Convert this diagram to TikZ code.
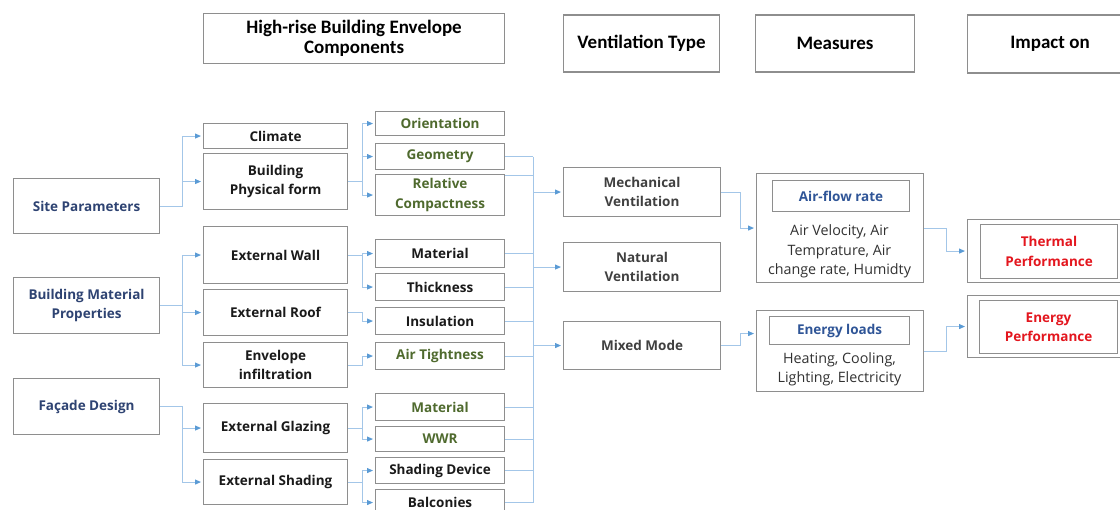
\documentclass[tikz,border=0pt]{standalone}
\usepackage{fontspec}
\setmainfont{Open Sans}
\newfontfamily\hdrfont{Carlito}
\usetikzlibrary{arrows.meta}

\definecolor{boxgray}{HTML}{8E8E8E}
\definecolor{linkblue}{HTML}{A3C6E8}
\definecolor{tipblue}{HTML}{5B9BD5}
\definecolor{navytext}{HTML}{2E4372}
\definecolor{greentext}{HTML}{4F6A2E}
\definecolor{redtext}{HTML}{E3161E}
\definecolor{bluetext}{HTML}{2F5597}
\definecolor{graytext}{HTML}{404040}
\definecolor{darktext}{HTML}{1A1A1A}

% box: corner (x,y) in pixel units, width, height
\newcommand{\mkbox}[7]{\node[bx,#1,minimum width=#5pt,minimum height=#6pt] (#2) at (#3,#4) {#7};}

\begin{document}
\begin{tikzpicture}[x=1pt,y=-1pt,
  bx/.style={draw=boxgray, line width=1.1pt, inner sep=0pt, anchor=north west,
             align=center, text=darktext,
             font=\fontsize{13.5}{19.5}\selectfont\bfseries},
  hdr/.style={font=\hdrfont\fontsize{19}{19.5}\selectfont\bfseries, text=black},
  navy/.style={text=navytext},
  green/.style={text=greentext},
  red/.style={text=redtext},
  vent/.style={text=graytext},
  plain/.style={font=\fontsize{14.3}{19.5}\selectfont, text=darktext!90, align=center},
  link/.style={draw=linkblue, line width=1pt},
  arr/.style={link, -{Triangle[length=6pt,width=5pt,color=tipblue]}, shorten >=2pt},
]
\useasboundingbox (0,0) rectangle (1120,510);

% column headings
\mkbox{hdr}{h1}{203}{13}{301}{50}{High-rise Building Envelope\\Components}
\mkbox{hdr,yshift=-1.5pt}{h2}{563}{13}{156}{57}{Ventilation Type}
\mkbox{hdr,yshift=-1.5pt}{h3}{755}{13}{159}{57}{Measures}
\mkbox{hdr,yshift=-1.5pt}{h4}{967}{13}{165}{58}{Impact on}

% envelope components
\mkbox{navy}{site}{13}{178}{146}{55}{Site Parameters}
\mkbox{navy}{bmp}{13}{277}{146}{56}{Building Material\\Properties}
\mkbox{navy}{facade}{13}{378}{146}{56}{Façade Design}

\mkbox{}{climate}{203}{123}{144}{25}{Climate}
\mkbox{}{bpf}{203}{153}{144}{56}{Building\\Physical form}
\mkbox{}{wall}{203}{226}{144}{57}{External Wall}
\mkbox{}{roof}{203}{289}{144}{46}{External Roof}
\mkbox{}{env}{203}{342}{144}{45}{Envelope\\infiltration}
\mkbox{}{glaz}{203}{403}{144}{49}{External Glazing}
\mkbox{}{shad}{203}{459}{144}{45}{External Shading}

\mkbox{green}{orient}{375}{111}{129}{24}{Orientation}
\mkbox{green}{geom}{375}{143}{129}{26}{Geometry}
\mkbox{green}{relc}{375}{174}{129}{41}{Relative\\Compactness}
\mkbox{}{mat}{375}{239}{129}{28}{Material}
\mkbox{}{thick}{375}{273}{129}{27}{Thickness}
\mkbox{}{insul}{375}{307}{129}{27}{Insulation}
\mkbox{green}{airt}{375}{342}{129}{27}{Air Tightness}
\mkbox{green}{gmat}{375}{393}{129}{27}{Material}
\mkbox{green}{wwr}{375}{426}{129}{25}{WWR}
\mkbox{}{shdev}{375}{457}{129}{26}{Shading Device}
\mkbox{}{balc}{375}{489}{129}{26}{Balconies}

% ventilation types
\mkbox{vent}{mech}{563}{167}{157}{49}{Mechanical\\Ventilation}
\mkbox{vent}{nat}{563}{242}{157}{49}{Natural\\Ventilation}
\mkbox{vent}{mixed}{563}{321}{157}{48}{Mixed Mode}

% measures
\mkbox{}{meas1}{756}{173}{167}{109}{}
\mkbox{text=bluetext}{airflow}{772}{180}{137}{31}{Air-flow rate}
\node[plain] (airtxt) at (839.5,251.5) {Air Velocity, Air\\Temprature, Air\\change rate, Humidty};
\mkbox{}{meas2}{756}{310}{167}{81}{}
\mkbox{text=bluetext}{eload}{769}{316}{140}{28}{Energy loads}
\node[plain] (entxt) at (839.5,369.5) {Heating, Cooling,\\Lighting, Electricity};

% impacts
\mkbox{}{thermal}{967}{219}{160}{63}{}
\mkbox{red}{thermalin}{980}{224}{137}{54}{Thermal\\Performance}
\mkbox{}{energy}{967}{295}{160}{62}{}
\mkbox{red}{energyin}{979}{300}{138}{53}{Energy\\Performance}

% first level branches
\foreach \s/\t in {site/climate, site/bpf, bmp/wall, bmp/roof, bmp/env, facade/glaz, facade/shad}
  \draw[arr] (\s.east) -- ++(22,0) |- (\t.west);

% second level branches
\foreach \s/\t in {bpf/orient, bpf/geom, bpf/relc, wall/mat, wall/thick, roof/insul,
                   env/airt, glaz/gmat, glaz/wwr, shad/shdev, shad/balc}
  \draw[arr] (\s.east) -- ++(14,0) |- (\t.west);

% collector bus into the ventilation types
\coordinate (bus) at (533,0);
\draw[link] ([yshift=-2pt]relc.north east) -- ([yshift=-2pt]relc.north east -| bus);
\foreach \s in {geom, mat, thick, insul, airt, gmat, wwr, shdev, balc}
  \draw[link] (\s.east) -- (\s.east -| bus);
\draw[link] (geom.east -| bus) -- (balc.east -| bus);
\foreach \t in {mech, nat, mixed}
  \draw[arr] (\t.west -| bus) -- (\t.west);

% ventilation to measures to impacts
\draw[arr] (mech.east) -- ++(19,0) |- (meas1.west);
\draw[arr] (mixed.east) -- ++(19,0) |- ([yshift=17.5pt]meas2.west);
\draw[arr] (meas1.east) -- ++(22,0) |- (thermal.west);
\draw[arr] (meas2.east) -- ++(22,0) |- (energy.west);
\end{tikzpicture}
\end{document}
